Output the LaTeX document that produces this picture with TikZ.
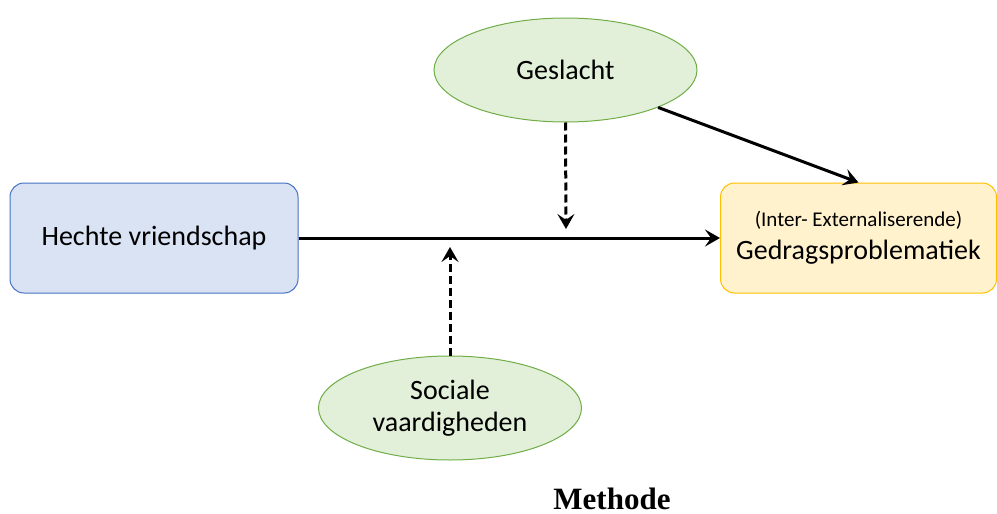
\documentclass[tikz,border=0pt]{standalone}
\usepackage{fontspec}
\setmainfont{Carlito}
\newfontfamily\kopfont{Liberation Serif}
\usetikzlibrary{arrows.meta}
\usetikzlibrary{shapes.geometric}

\definecolor{blauwvul}{HTML}{DAE3F3}
\definecolor{blauwrand}{HTML}{4472C4}
\definecolor{geelvul}{HTML}{FFF2CC}
\definecolor{geelrand}{HTML}{FFC000}
\definecolor{groenvul}{HTML}{E2F0D9}
\definecolor{groenrand}{HTML}{70AD47}

\begin{document}
\begin{tikzpicture}[x=1pt,y=-1pt]
	\tikzstyle{blok}=[rectangle,rounded corners=14pt,line width=1pt,inner sep=0pt,align=center,font=\fontsize{28}{33}\selectfont]
	\tikzstyle{ovaal}=[ellipse,draw=groenrand,fill=groenvul,line width=1pt,inner sep=0pt,minimum width=263pt,minimum height=104pt,align=center,font=\fontsize{28}{32}\selectfont]
	\tikzstyle{pijl}=[line width=3pt,-{Stealth[length=15pt,width=17pt,inset=6pt]}]
	\tikzstyle{streep}=[pijl,dash pattern=on 8pt off 4pt]
	\useasboundingbox (0,0) rectangle (997,514);
	\node[blok,draw=blauwrand,fill=blauwvul,minimum width=288pt,minimum height=110pt] (hecht) at (154,238){Hechte vriendschap};
	\node[blok,draw=geelrand,fill=geelvul,minimum width=276pt,minimum height=110pt] (gedrag) at (858.5,238){{\fontsize{21}{24}\selectfont (Inter- Externaliserende)}\\Gedragsproblematiek};
	\node[ovaal] (geslacht) at (565.5,70){Geslacht};
	\node[ovaal] (sociaal) at (450,408){Sociale\\vaardigheden};
	\node[anchor=base,font=\kopfont\bfseries\fontsize{31}{36}\selectfont] (methode) at (612,509){Methode};
	\coordinate (boven) at (566,229);
	\coordinate (onder) at (450,247);
	\draw[pijl] (hecht.east) -- (gedrag.west);
	\draw[pijl] (geslacht.-22.5) -- (gedrag.north);
	\draw[streep] (geslacht.south) -- (boven);
	\draw[streep] (sociaal.north) -- (onder);
\end{tikzpicture}
\end{document}
